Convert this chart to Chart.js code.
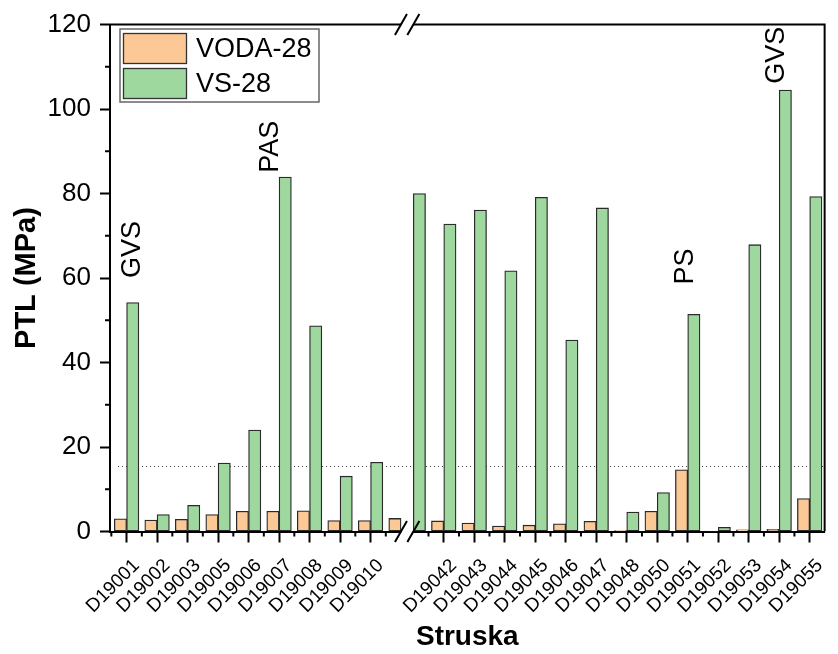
<!DOCTYPE html>
<html>
<head>
<meta charset="utf-8">
<title>PTL (MPa)</title>
<script src="https://cdn.jsdelivr.net/npm/chart.js@4.4.1/dist/chart.umd.min.js"></script>
<style>
    html, body { margin: 0; padding: 0; background: #fff; }
    canvas { display: block; }
</style>
</head>
<body>
<canvas id="ptlChart" width="838" height="654"></canvas>
<script>
// Sample names ('' = columns cut by the axis break)
const categories = ['D19001', 'D19002', 'D19003', 'D19005', 'D19006', 'D19007', 'D19008', 'D19009', 'D19010',
    '', '',
    'D19042', 'D19043', 'D19044', 'D19045', 'D19046', 'D19047', 'D19048', 'D19050', 'D19051', 'D19052',
    'D19053', 'D19054', 'D19055'];
// Position of each sample along the broken x axis
const categoryPos = [0, 1, 2, 3, 4, 5, 6, 7, 8,
    9, 9.4,
    10.4, 11.4, 12.4, 13.4, 14.4, 15.4, 16.4, 17.4, 18.4, 19.4, 20.4, 21.4, 22.4];
const voda28 = [3.0, 2.7, 2.9, 4.0, 4.8, 4.8, 4.9, 2.6, 2.6,
    3.1, null,
    2.5, 2.0, 1.3, 1.5, 1.8, 2.4, 0.2, 4.8, 14.6, 0.1, 0.4, 0.5, 7.8];
const vs28 = [54.2, 4.0, 6.2, 16.2, 24.0, 83.9, 48.7, 13.1, 16.4,
    null, 80.0,
    72.8, 76.1, 61.7, 79.1, 45.3, 76.6, 4.6, 9.2, 51.4, 1.0, 67.9, 104.5, 79.3];
const yTicks = [0, 20, 40, 60, 80, 100, 120];
const yMinorTicks = [10, 30, 50, 70, 90, 110];

// Text notes above bars
const noteText = ['GVS', 'PAS', 'PS', 'GVS'];
const noteX = [0.19, 4.73, 18.32, 21.32];
const noteY = [60.0, 84.9, 58.5, 106.0];

const refLevel = 15.5;
const breakAt = 9.2;

const FONT = "'Liberation Sans', Arial, sans-serif";

// helpers
function toPoints(values) {
    return categoryPos
        .map((x, i) => ({ x: x, y: values[i] }))
        .filter(p => p.y !== null);
}

const tickPos = categoryPos.filter((p, i) => categories[i] !== '');
const tickLabels = categories.filter(c => c !== '');

// Minor ticks half way between samples (not inside the break)
const xMinorTicks = [];
tickPos.forEach(p => {
    [p - 0.5, p + 0.5].forEach(m => {
        if (!xMinorTicks.some(v => Math.abs(v - m) < 0.01)) xMinorTicks.push(m);
    });
});

const decorPlugin = {
    id: 'decor',
    beforeDatasetsDraw(chart) {
        const { ctx, chartArea } = chart;
        const y = chart.scales.y;
        // dotted reference line
        ctx.save();
        ctx.strokeStyle = '#444';
        ctx.lineWidth = 1;
        ctx.setLineDash([1, 3]);
        const py = Math.round(y.getPixelForValue(refLevel)) + 0.5;
        ctx.beginPath();
        ctx.moveTo(chartArea.left + 8, py);
        ctx.lineTo(chartArea.right, py);
        ctx.stroke();
        ctx.restore();
    },
    afterDraw(chart) {
        const { ctx, chartArea } = chart;
        const x = chart.scales.x;
        const y = chart.scales.y;
        const { left, right, top, bottom } = chartArea;

        ctx.save();
        ctx.strokeStyle = '#000';
        ctx.lineWidth = 2;

        // top and right frame
        ctx.beginPath();
        ctx.moveTo(left - 1, top);
        ctx.lineTo(right, top);
        ctx.lineTo(right, bottom);
        ctx.stroke();

        // minor ticks
        ctx.beginPath();
        xMinorTicks.forEach(v => {
            if (v <= x.min || v >= x.max - 0.05) return;
            const px = x.getPixelForValue(v);
            ctx.moveTo(px, bottom);
            ctx.lineTo(px, bottom + 5);
        });
        yMinorTicks.forEach(v => {
            const py = y.getPixelForValue(v);
            ctx.moveTo(left, py);
            ctx.lineTo(left - 5, py);
        });
        ctx.stroke();

        // axis break
        const bx = x.getPixelForValue(breakAt);
        ctx.fillStyle = '#fff';
        ctx.fillRect(bx - 6, top - 2, 12, 4);
        ctx.fillRect(bx - 6, bottom - 2, 12, 4);
        ctx.beginPath();
        [bx - 6.2, bx + 6.2].forEach(c => {
            [top, bottom].forEach(ly => {
                ctx.moveTo(c - 6, ly + 10.5);
                ctx.lineTo(c + 6, ly - 10.5);
            });
        });
        ctx.stroke();

        // notes
        ctx.fillStyle = '#000';
        ctx.font = '27px ' + FONT;
        ctx.textAlign = 'left';
        ctx.textBaseline = 'middle';
        noteText.forEach((t, i) => {
            ctx.save();
            ctx.translate(x.getPixelForValue(noteX[i]), y.getPixelForValue(noteY[i]));
            ctx.rotate(-Math.PI / 2);
            ctx.fillText(t, 0, 0);
            ctx.restore();
        });

        // legend box
        const lx = 120, ly = 29, lw = 199, lh = 73;
        ctx.fillStyle = '#fff';
        ctx.fillRect(lx, ly, lw, lh);
        ctx.strokeStyle = '#666';
        ctx.lineWidth = 1.5;
        ctx.strokeRect(lx, ly, lw, lh);
        chart.data.datasets.forEach((ds, i) => {
            const sy = ly + 4.5 + i * 35;
            ctx.fillStyle = ds.backgroundColor;
            ctx.fillRect(lx + 3.5, sy, 63, 30);
            ctx.strokeStyle = '#333';
            ctx.lineWidth = 1.3;
            ctx.strokeRect(lx + 3.5, sy, 63, 30);
            ctx.fillStyle = '#000';
            ctx.font = '27px ' + FONT;
            ctx.textBaseline = 'middle';
            ctx.fillText(ds.label, lx + 76, sy + 16);
        });
        ctx.restore();
    }
};

new Chart(document.getElementById('ptlChart'), {
    type: 'bar',
    data: {
        datasets: [{
            label: 'VODA-28',
            data: toPoints(voda28),
            backgroundColor: 'rgb(252, 200, 150)',
            borderColor: '#2b2b2b',
            borderWidth: 1.3,
            borderSkipped: false,
            barThickness: 12.3
        }, {
            label: 'VS-28',
            data: toPoints(vs28),
            backgroundColor: 'rgb(158, 216, 158)',
            borderColor: '#2b2b2b',
            borderWidth: 1.3,
            borderSkipped: false,
            barThickness: 12.3
        }]
    },
    options: {
        responsive: false,
        animation: false,
        devicePixelRatio: 1,
        layout: { padding: { top: 24, right: 9, left: 0, bottom: 0 } },
        plugins: {
            legend: { display: false },
            tooltip: { enabled: false }
        },
        scales: {
            x: {
                type: 'linear',
                offset: false,
                min: -0.544,
                max: 22.89,
                afterFit: scale => { scale.height = 122.5; },
                afterBuildTicks: scale => {
                    scale.ticks = tickPos.map(v => ({ value: v }));
                },
                grid: {
                    offset: false,
                    drawOnChartArea: false,
                    tickLength: 11,
                    tickWidth: 2,
                    tickColor: '#000'
                },
                border: { display: true, color: '#000', width: 2 },
                ticks: {
                    autoSkip: false,
                    maxRotation: 45,
                    minRotation: 45,
                    labelOffset: 10,
                    padding: 12,
                    color: '#000',
                    font: { family: FONT, size: 19 },
                    callback: (value, index) => tickLabels[index]
                },
                title: {
                    display: true,
                    text: 'Struska',
                    color: '#000',
                    font: { family: FONT, size: 28, weight: 'bold' },
                    padding: { top: 0, bottom: 0 }
                }
            },
            y: {
                min: 0,
                max: 120,
                afterFit: scale => { scale.width = 110; },
                afterBuildTicks: scale => {
                    scale.ticks = yTicks.map(v => ({ value: v }));
                },
                grid: {
                    drawOnChartArea: false,
                    tickLength: 10,
                    tickWidth: 2,
                    tickColor: '#000'
                },
                border: { display: true, color: '#000', width: 2 },
                ticks: {
                    padding: 9,
                    color: '#000',
                    font: { family: FONT, size: 26 }
                },
                title: {
                    display: true,
                    text: 'PTL (MPa)',
                    color: '#000',
                    font: { family: FONT, size: 29, weight: 'bold' },
                    padding: { top: 10, bottom: 0 }
                }
            }
        }
    },
    plugins: [decorPlugin]
});
</script>
</body>
</html>
